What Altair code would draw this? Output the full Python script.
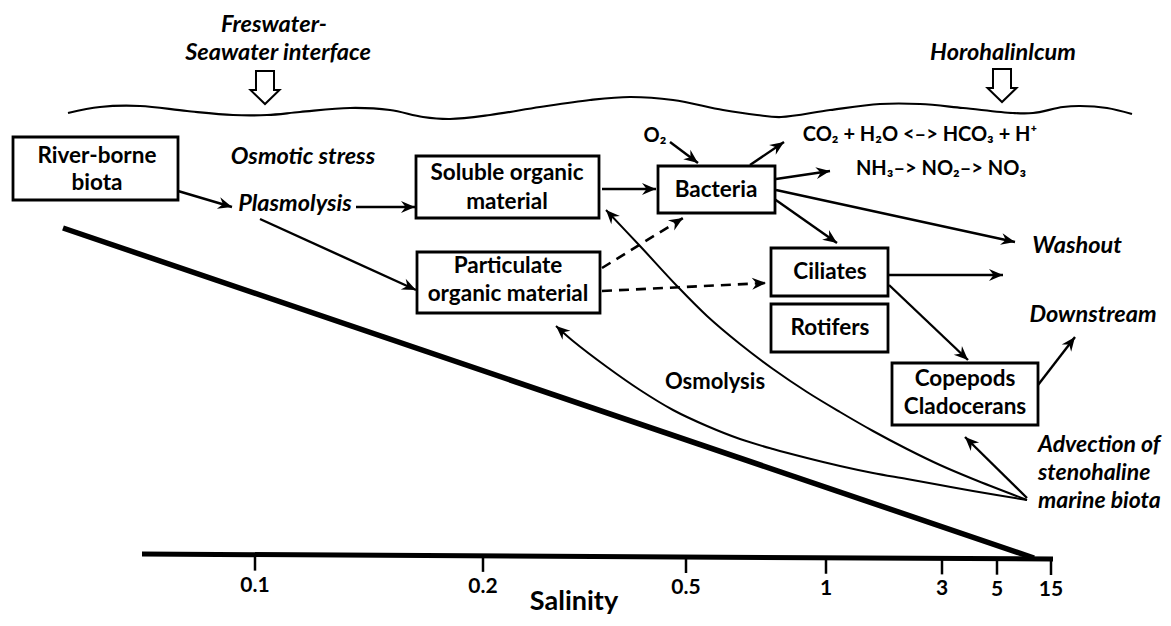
import math
import altair as alt
import pandas as pd

FONT = "Lato"

# ---------------- boxes (image pixel coordinates) ----------------
box_x1 = [13, 416, 417, 658, 771, 771, 892]
box_x2 = [178, 599, 600, 775, 888, 888, 1038]
box_y1 = [137, 156, 252, 166, 248, 304, 363]
box_y2 = [200, 218, 313, 213, 296, 352, 425]

box_text = ["River-borne", "biota", "Soluble organic", "material", "Particulate",
            "organic material", "Bacteria", "Ciliates", "Rotifers", "Copepods", "Cladocerans"]
box_text_x = [97, 97, 507, 507, 508, 508, 716, 830, 830, 965, 965]
box_text_y = [156, 183, 173, 202, 266, 294, 190, 272, 328, 379, 407]

# ---------------- italic labels ----------------
ital_text = ["Freswater-", "Seawater interface", "Horohalinlcum", "Osmotic stress",
             "Plasmolysis", "Washout", "Downstream"]
ital_x = [274, 278, 1003, 303, 295, 1077, 1093]
ital_y = [25, 53, 53, 157, 204, 246, 315]

adv_text = ["Advection of", "stenohaline", "marine biota"]
adv_x = [1038, 1038, 1038]
adv_y = [445, 473, 501]

# ---------------- plain bold labels ----------------
chem_text = ["O\u2082", "CO\u2082 + H\u2082O <\u2013> HCO\u2083 + H\u207a",
             "NH\u2083\u2013> NO\u2082\u2013> NO\u2083"]
chem_x = [655, 920, 941]
chem_y = [136, 135, 169]

plain_text = ["Osmolysis"]
plain_x = [715]
plain_y = [382]

# ---------------- arrows ----------------
arrow_x1 = [178, 356, 260, 602, 670, 750, 776, 776, 773, 889, 889, 1038, 1027]
arrow_y1 = [191, 207, 219, 189, 142, 165, 179, 190, 198, 275, 285, 385, 498]
arrow_x2 = [232, 415, 416, 656, 698, 784, 830, 1015, 837, 1003, 968, 1075, 965]
arrow_y2 = [207, 207, 290, 189, 163, 142, 171, 242, 243, 275, 360, 337, 437]

dash_x1 = [602, 602]
dash_y1 = [268, 291]
dash_x2 = [683, 766]
dash_y2 = [218, 283]

# ---------------- curves ----------------
curve1_x = [1027, 973, 940, 907, 873, 840, 807, 773, 740, 707, 677, 640, 606]
curve1_y = [500, 479, 465, 449, 431, 412, 392, 369, 344, 316, 286, 246, 210]
curve2_x = [1027, 973, 940, 907, 873, 840, 807, 773, 740, 707, 673, 640, 607, 573, 556]
curve2_y = [500, 491, 485, 479, 473, 466, 458, 449, 439, 426, 410, 390, 367, 341, 326]

thick_x = [63, 1034]
thick_y = [228, 558]

wave_x = [68, 100, 140, 187, 233, 267, 300, 350, 390, 423, 450, 490, 540, 590, 630, 673,
          723, 757, 781, 830, 880, 920, 963, 1013, 1033, 1063, 1080, 1107, 1132]
wave_y = [113, 107, 106, 111, 115, 115, 112, 108, 110, 117, 119, 115, 107, 100, 97, 100,
          110, 115, 117, 110, 104, 104, 108, 113, 113, 107, 106, 108, 114]

# ---------------- salinity axis ----------------
base_x = [142, 1053]
base_y = [554, 559]
tick_x = [255, 483, 686, 826, 942, 997, 1051]
tick_labels = ["0.1", "0.2", "0.5", "1", "3", "5", "15"]
axis_title = "Salinity"
axis_title_x = 574
axis_title_y = 602

# hollow block arrows
block_x = [265, 1002]
block_y = [87, 85]

# ---------------- build tables ----------------
XS = alt.Scale(domain=[8, 1163], nice=False, zero=False)
YS = alt.Scale(domain=[8, 618], nice=False, zero=False, reverse=True)


def X(f):
    return alt.X(f, type="quantitative", scale=XS, axis=None)


def Y(f):
    return alt.Y(f, type="quantitative", scale=YS, axis=None)


boxes = pd.DataFrame({"x1": box_x1, "x2": box_x2, "y1": box_y1, "y2": box_y2})
btxt = pd.DataFrame({"t": box_text, "x": box_text_x, "y": box_text_y})
itxt = pd.DataFrame({"t": ital_text, "x": ital_x, "y": ital_y})
atxt = pd.DataFrame({"t": adv_text, "x": adv_x, "y": adv_y})
ctxt = pd.DataFrame({"t": chem_text, "x": chem_x, "y": chem_y})
ptxt = pd.DataFrame({"t": plain_text, "x": plain_x, "y": plain_y})

solid = pd.DataFrame({"x1": arrow_x1, "y1": arrow_y1, "x2": arrow_x2, "y2": arrow_y2})
dashed = pd.DataFrame({"x1": dash_x1, "y1": dash_y1, "x2": dash_x2, "y2": dash_y2})

heads = []
for a, b, c, d in zip(arrow_x1 + dash_x1, arrow_y1 + dash_y1, arrow_x2 + dash_x2, arrow_y2 + dash_y2):
    heads.append({"x": c, "y": d, "angle": math.degrees(math.atan2(d - b, c - a)) % 360})
for cx, cy in [(curve1_x, curve1_y), (curve2_x, curve2_y)]:
    heads.append({"x": cx[-1], "y": cy[-1],
                  "angle": math.degrees(math.atan2(cy[-1] - cy[-2], cx[-1] - cx[-2])) % 360})
heads = pd.DataFrame(heads)

rows = []
for name, xs, ys in [("c1", curve1_x, curve1_y), ("c2", curve2_x, curve2_y)]:
    for i, (a, b) in enumerate(zip(xs, ys)):
        rows.append({"id": name, "o": i, "x": a, "y": b})
curves = pd.DataFrame(rows)
thick = pd.DataFrame({"o": range(len(thick_x)), "x": thick_x, "y": thick_y})
wave = pd.DataFrame({"o": range(len(wave_x)), "x": wave_x, "y": wave_y})
base = pd.DataFrame({"x1": [base_x[0]], "y1": [base_y[0]], "x2": [base_x[1]], "y2": [base_y[1]]})


def base_at(x):
    return base_y[0] + (base_y[1] - base_y[0]) * (x - base_x[0]) / (base_x[1] - base_x[0])


ticks = pd.DataFrame({"x": tick_x, "t": tick_labels,
                      "y1": [base_at(v) + 1 for v in tick_x],
                      "y2": [base_at(v) + 16 for v in tick_x],
                      "ly": [base_at(v) + 31 for v in tick_x]})
title_df = pd.DataFrame({"t": [axis_title], "x": [axis_title_x], "y": [axis_title_y]})
blocks = pd.DataFrame({"x": block_x, "y": block_y})

HEAD = "M0,0 L-2,-0.85 L-1.35,0 L-2,0.85 Z"
BLOCK = "M-0.53,-0.94 L0.53,-0.94 L0.53,0.18 L0.85,0.18 L0,1 L-0.85,0.18 L-0.53,0.18 Z"

layers = [
    alt.Chart(wave).mark_line(color="black", strokeWidth=2.2, interpolate="catmull-rom").encode(
        x=X("x"), y=Y("y"), order="o:Q"),
    alt.Chart(thick).mark_line(color="black", strokeWidth=5.5).encode(
        x=X("x"), y=Y("y"), order="o:Q"),
    alt.Chart(base).mark_rule(color="black", strokeWidth=5).encode(
        x=X("x1"), y=Y("y1"), x2="x2", y2="y2"),
    alt.Chart(ticks).mark_rule(color="black", strokeWidth=2.5).encode(
        x=X("x"), y=Y("y1"), y2="y2"),
    alt.Chart(ticks).mark_text(font=FONT, fontWeight="bold", fontSize=21, baseline="middle").encode(
        x=X("x"), y=Y("ly"), text="t"),
    alt.Chart(title_df).mark_text(font=FONT, fontWeight="bold", fontSize=27, baseline="middle").encode(
        x=X("x"), y=Y("y"), text="t"),
    alt.Chart(curves).mark_line(color="black", strokeWidth=2, interpolate="catmull-rom").encode(
        x=X("x"), y=Y("y"), detail="id:N", order="o:Q"),
    alt.Chart(solid).mark_rule(color="black", strokeWidth=2.4).encode(
        x=X("x1"), y=Y("y1"), x2="x2", y2="y2"),
    alt.Chart(dashed).mark_rule(color="black", strokeWidth=2.6, strokeDash=[10, 7]).encode(
        x=X("x1"), y=Y("y1"), x2="x2", y2="y2"),
    alt.Chart(heads).mark_point(shape=HEAD, filled=True, color="black", size=196, opacity=1,
                                strokeWidth=0).encode(
        x=X("x"), y=Y("y"), angle=alt.Angle("angle:Q", scale=None)),
    alt.Chart(boxes).mark_rect(fill="white", stroke="black", strokeWidth=2.8).encode(
        x=X("x1"), x2="x2", y=Y("y1"), y2="y2"),
    alt.Chart(btxt).mark_text(font=FONT, fontWeight="bold", fontSize=22.5, baseline="middle").encode(
        x=X("x"), y=Y("y"), text="t"),
    alt.Chart(itxt).mark_text(font=FONT, fontWeight="bold", fontStyle="italic", fontSize=23.5,
                              baseline="middle").encode(x=X("x"), y=Y("y"), text="t"),
    alt.Chart(atxt).mark_text(font=FONT, fontWeight="bold", fontStyle="italic", fontSize=23,
                              baseline="middle", align="left").encode(x=X("x"), y=Y("y"), text="t"),
    alt.Chart(ctxt).mark_text(font=FONT, fontWeight="bold", fontSize=20, baseline="middle").encode(
        x=X("x"), y=Y("y"), text="t"),
    alt.Chart(ptxt).mark_text(font=FONT, fontWeight="bold", fontSize=22, baseline="middle").encode(
        x=X("x"), y=Y("y"), text="t"),
    alt.Chart(blocks).mark_point(shape=BLOCK, filled=True, fill="white", stroke="black",
                                 strokeWidth=2, size=1156, opacity=1).encode(x=X("x"), y=Y("y")),
]

chart = alt.layer(*layers).properties(
    width=1155, height=610, padding=0,
    autosize=alt.AutoSizeParams(type="none"),
    background="white",
).configure_view(strokeWidth=0)

chart.save("out.html", embed_options={"renderer": "svg", "actions": False})
